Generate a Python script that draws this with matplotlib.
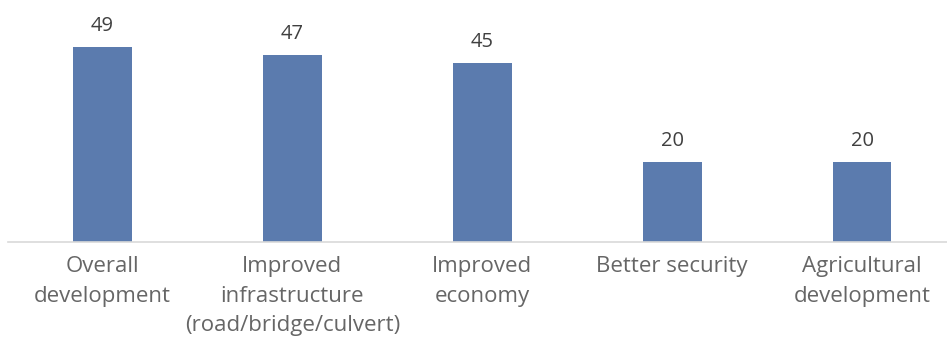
import matplotlib
matplotlib.use("Agg")
import matplotlib.pyplot as plt

categories = [
    "Overall\ndevelopment",
    "Improved\ninfrastructure\n(road/bridge/culvert)",
    "Improved\neconomy",
    "Better security",
    "Agricultural\ndevelopment",
]
values = [49, 47, 45, 20, 20]

plt.rcParams['font.family'] = ['Open Sans', 'DejaVu Sans']

fig = plt.figure(figsize=(9.47, 3.39), dpi=100)
# axes reaches a little past the right edge of the figure
ax = fig.add_axes([7.6 / 947, 97 / 339, 949.4 / 947, 242 / 339])

x = range(len(values))
bars = ax.bar(x, values, width=0.31, color="#5B7BAE")
ax.set_xlim(-0.5, 4.5)
ax.set_ylim(0, 60.8)

for rect, v in zip(bars, values):
    ax.annotate(str(v), (rect.get_x() + rect.get_width() / 2, v),
                xytext=(0, 8), textcoords="offset points",
                ha="center", va="bottom", fontsize=14.5, color="#404040")

ax.set_xticks(list(x))
ax.set_xticklabels(categories, fontsize=16, color="#666666", linespacing=1.55)
ax.tick_params(axis="x", length=0, pad=10)
ax.set_yticks([])
for side in ["top", "right", "left"]:
    ax.spines[side].set_visible(False)
ax.spines["bottom"].set_color("#D9D9D9")
ax.spines["bottom"].set_linewidth(1.2)

fig.savefig("out.png", dpi=100)
